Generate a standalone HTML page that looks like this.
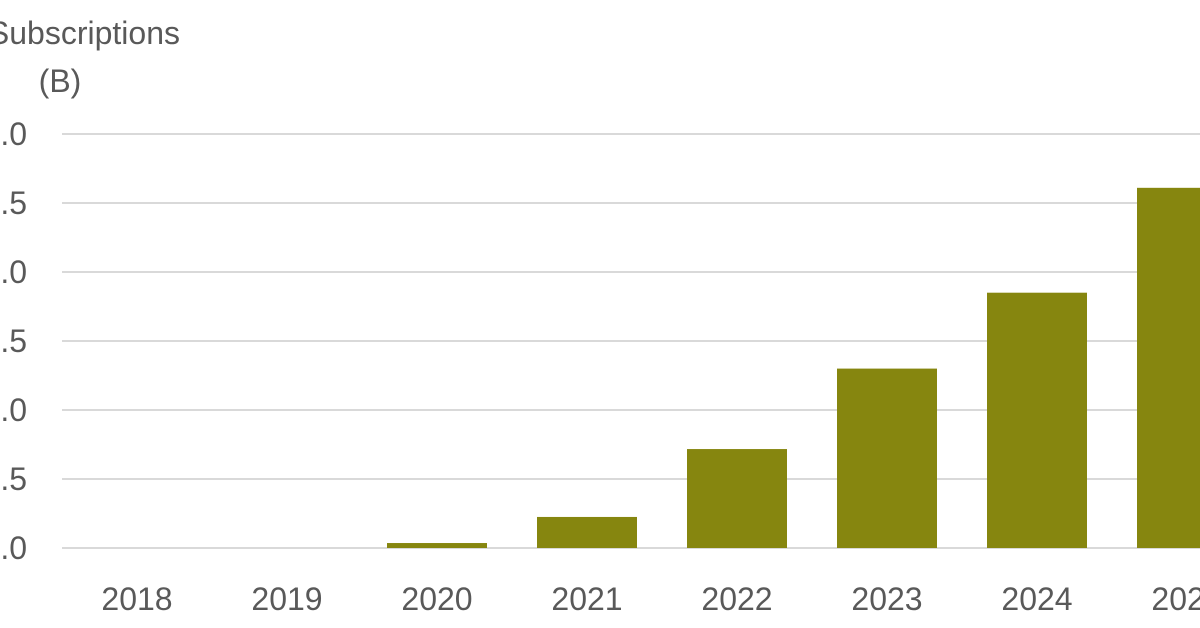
<!DOCTYPE html>
<html><head><meta charset="utf-8"><style>
html,body{margin:0;padding:0;background:#fff;width:1200px;height:628px;overflow:hidden}
svg text{font-family:"Liberation Sans",Arial,sans-serif;fill:#595959}
</style></head><body>
<svg id="chart" width="1200" height="628" viewBox="0 0 1200 628" xmlns="http://www.w3.org/2000/svg">
<text x="180" y="44" font-size="32" text-anchor="end">Subscriptions</text>
<text x="60" y="92" font-size="32" text-anchor="middle">(B)</text>
<g id="grid"></g><g id="bars"></g><g id="xl"></g>
</svg>
<script>
const categories=["2018","2019","2020","2021","2022","2023","2024","2025"];
const values=[0,0,0.036,0.225,0.717,1.30,1.85,2.61];
const yTicks=[0,0.5,1,1.5,2,2.5,3];
const yTickLabels=["0.0","0.5","1.0","1.5","2.0","2.5","3.0"];
const NS="http://www.w3.org/2000/svg";
const y=v=>548-v*138;
const x=i=>137+150*i;
const grid=document.getElementById('grid'),bars=document.getElementById('bars'),xl=document.getElementById('xl');
yTicks.forEach((t,k)=>{
  const l=document.createElementNS(NS,'line');
  
  
  l.setAttribute('x1',62);l.setAttribute('x2',1200);l.setAttribute('y1',y(t));l.setAttribute('y2',y(t));
  l.setAttribute('stroke','#d9d9d9');l.setAttribute('stroke-width','2');
  grid.appendChild(l);
  const tx=document.createElementNS(NS,'text');
  
  
  tx.setAttribute('x',27);tx.setAttribute('y',y(t)+11);tx.setAttribute('font-size','32');tx.setAttribute('text-anchor','end');
  tx.textContent=yTickLabels[k];grid.appendChild(tx);
});
categories.forEach((c,i)=>{
  const r=document.createElementNS(NS,'rect');
  
  
  r.setAttribute('x',x(i)-50);r.setAttribute('width',100);
  r.setAttribute('y',y(values[i]));r.setAttribute('height',Math.max(0,548-y(values[i])));
  r.setAttribute('fill','#86860f');bars.appendChild(r);
  const tx=document.createElementNS(NS,'text');
  
  
  tx.setAttribute('x',x(i));tx.setAttribute('y',610);tx.setAttribute('font-size','32');tx.setAttribute('text-anchor','middle');
  tx.textContent=c;xl.appendChild(tx);
});
</script>
</body></html>
